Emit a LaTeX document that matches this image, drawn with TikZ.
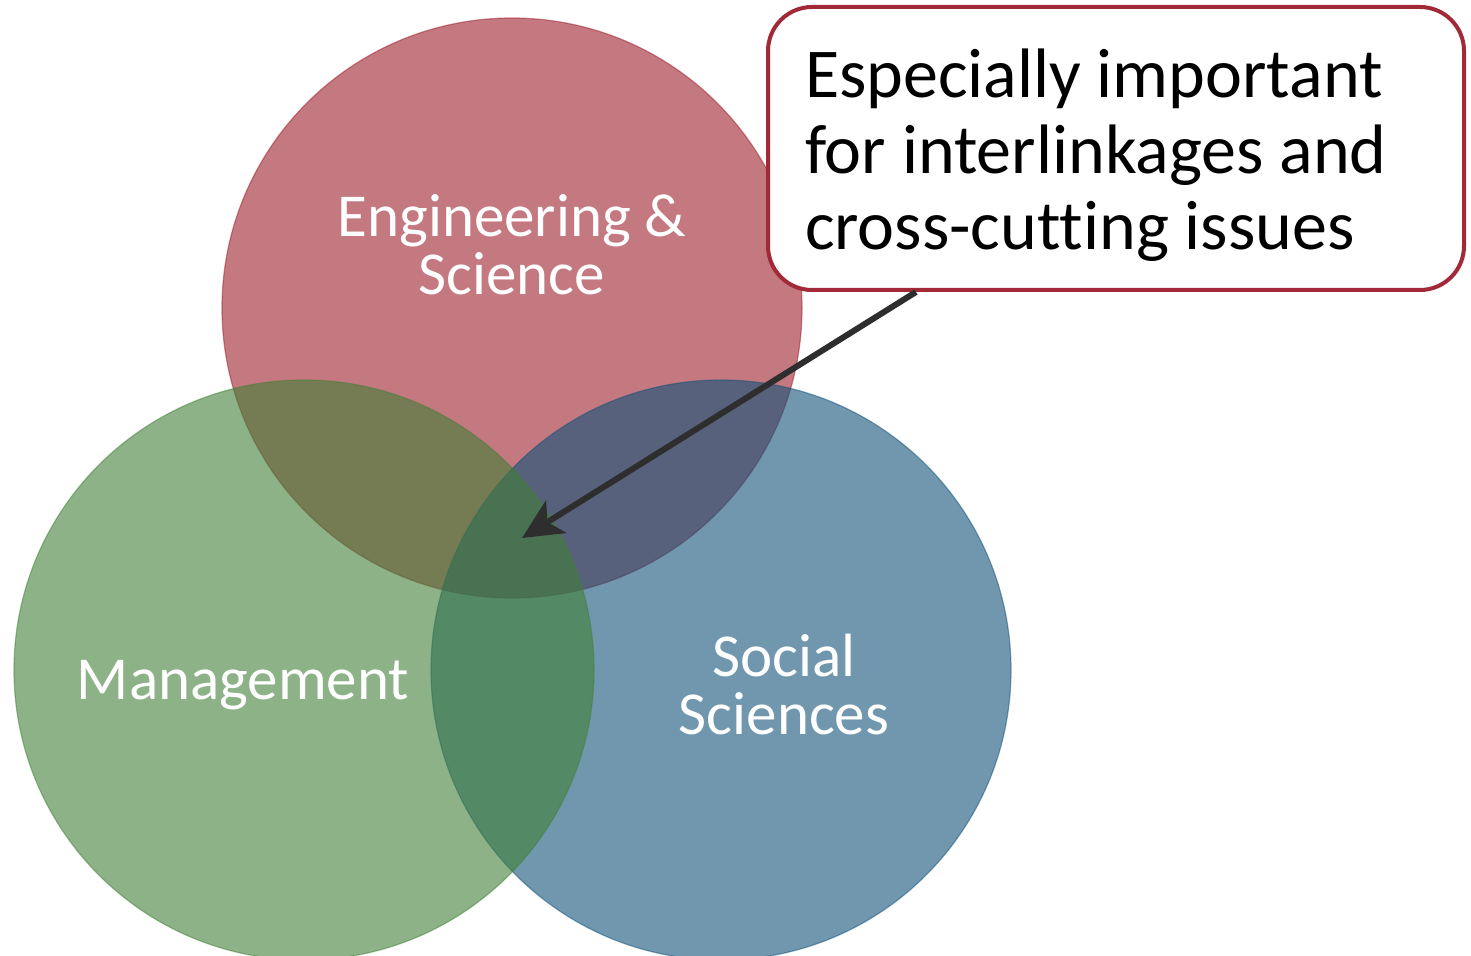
\documentclass[tikz,border=0pt]{standalone}
\usepackage{fontspec}
\setmainfont{Carlito}[Ligatures=NoCommon]
\usetikzlibrary{arrows.meta, positioning}
\definecolor{engred}{RGB}{157,30,43}
\definecolor{mgmtgreen}{RGB}{65,127,55}
\definecolor{socblue}{RGB}{17,82,120}
\definecolor{calloutred}{RGB}{162,42,56}
\definecolor{arrowgray}{RGB}{46,46,46}

\begin{document}
\begin{tikzpicture}[x=0.5pt, y=-0.5pt,
        venn/.style={fill opacity=0.6, draw opacity=0.5, line width=0.6pt},
        venntext/.style={text=white, align=center, font=\fontsize{30.5}{29}\selectfont},
        callout/.style={draw=calloutred, line width=2pt, rounded corners=22pt, fill=white,
            align=flush left, text width=311pt, inner xsep=18.5pt, minimum height=141.5pt,
            font=\fontsize{35}{38}\selectfont},
        pointer/.style={draw=arrowgray, line width=3pt, -{Stealth[length=20pt, width=19pt, inset=5pt]}},
    ]
    \useasboundingbox (0,0) rectangle (1471,956);
    \filldraw[venn, fill=engred, draw=engred] (512,308) circle [radius=290];
    \filldraw[venn, fill=socblue, draw=socblue] (721,670) circle [radius=290];
    \filldraw[venn, fill=mgmtgreen, draw=mgmtgreen] (304,670) circle [radius=290];
    \node[venntext] (engsci) at (512,245) {Engineering \&\\Science};
    \node[venntext] (mgmt) at (243,685) {Management};
    \node[venntext] (socsci) at (784,685) {Social\\Sciences};
    \node[callout] (note) at (1116,148.5) {\rule{0pt}{31pt}Especially important\\for interlinkages and\\cross-cutting issues};
    \coordinate (core) at (522,538);
    \draw[pointer] ([xshift=75pt]note.south west) -- (core);
\end{tikzpicture}
\end{document}
